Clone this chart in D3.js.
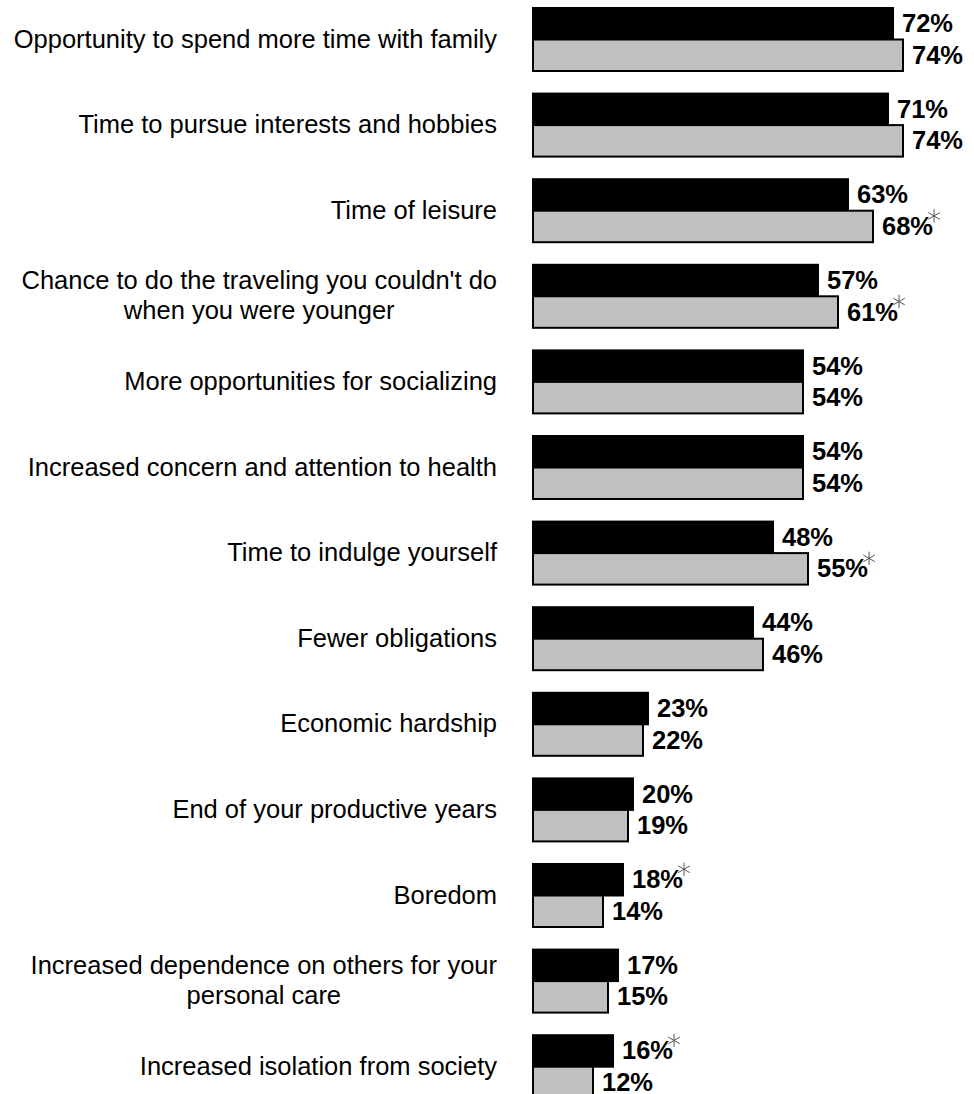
<!DOCTYPE html>
<html>
<head>
<meta charset="utf-8">
<script src="https://cdn.jsdelivr.net/npm/d3@7"></script>
<style>
  html, body { margin: 0; padding: 0; background: #fff; }
  svg { display: block; }
  text { font-family: "Liberation Sans", Arial, Helvetica, sans-serif; }
</style>
</head>
<body>
<script>
// Survey items (line breaks mark where long labels wrap)
const categories = [
  "Opportunity to spend more time with family",
  "Time to pursue interests and hobbies",
  "Time of leisure",
  "Chance to do the traveling you couldn't do\nwhen you were younger",
  "More opportunities for socializing",
  "Increased concern and attention to health",
  "Time to indulge yourself",
  "Fewer obligations",
  "Economic hardship",
  "End of your productive years",
  "Boredom",
  "Increased dependence on others for your\npersonal care",
  "Increased isolation from society"
];

// First group (black bars), percent
const groupA = [72, 71, 63, 57, 54, 54, 48, 44, 23, 20, 18, 17, 16];
// Second group (grey bars), percent
const groupB = [74, 74, 68, 61, 54, 54, 55, 46, 22, 19, 14, 15, 12];

// Significant-difference markers
const starA = [false, false, false, false, false, false, false, false, false, false, true, false, true];
const starB = [false, false, true, true, false, false, true, false, false, false, false, false, false];

const W = 974, H = 1094;
const FS = 25.5;          // font size

const svg = d3.select("body").append("svg")
  .attr("width", W).attr("height", H);

const x = d3.scaleLinear().domain([0, 100]).range([533, 1033]);

const step = 85.6, pIn = 0.264;
const y = d3.scaleBand()
  .domain(categories)
  .range([8, 8 + step * (categories.length - pIn)])
  .paddingInner(pIn)
  .paddingOuter(0);

const sub = d3.scaleBand().domain(["a", "b"]).range([0, y.bandwidth()]);

const rows = categories.map((c, i) => ({
  c,
  vals: [
    { k: "a", v: groupA[i], star: starA[i], fill: "#000000" },
    { k: "b", v: groupB[i], star: starB[i], fill: "#c0c0c0" }
  ]
}));

// Bars: black first, grey drawn over it
const row = svg.append("g").selectAll("g.row")
  .data(rows).join("g")
  .attr("class", "row")
  .attr("transform", d => `translate(0,${y(d.c)})`);

row.selectAll("rect")
  .data(d => d.vals)
  .join("rect")
  .attr("x", x(0))
  .attr("y", d => sub(d.k))
  .attr("width", d => x(d.v) - x(0))
  .attr("height", sub.bandwidth())
  .attr("fill", d => d.fill)
  .attr("stroke", "#000")
  .attr("stroke-width", 2);

// Value labels
row.selectAll("g.val")
  .data(d => d.vals)
  .join("g")
  .attr("class", "val")
  .each(function(d) {
    const g = d3.select(this);
    const bx = x(d.v) + 9;
    const by = sub(d.k) + sub.bandwidth() / 2 + 8.5;
    const t = g.append("text")
      .attr("x", bx)
      .attr("y", by)
      .attr("font-size", FS)
      .attr("font-weight", "bold")
      .attr("fill", "#000")
      .text(d.v + "%");
    if (d.star) {
      const w = t.node().getComputedTextLength();
      g.append("path")
        .attr("transform", `translate(${bx + w + 1},${by - 19})`)
        .attr("d", d3.symbol().type(d3.symbolAsterisk).size(125)())
        .attr("fill", "none")
        .attr("stroke", "#555")
        .attr("stroke-width", 1);
    }
  });

// Category labels, right-aligned block, lines centred within it
const labelRight = 497;
const lineH = 30;
row.each(function(d) {
  const lines = d.c.split("\n");
  const cy = y.bandwidth() / 2;
  const t = d3.select(this).append("text")
    .attr("font-size", FS)
    .attr("fill", "#000")
    .attr("text-anchor", "middle");
  const n = lines.length;
  const spans = lines.map((ln, i) => t.append("tspan")
    .attr("x", 0)
    .attr("y", (i - (n - 1) / 2) * lineH + 8)
    .text(ln));
  const maxW = d3.max(spans, s => s.node().getComputedTextLength());
  t.attr("transform", `translate(${labelRight - maxW / 2},${cy})`);
});
</script>
</body>
</html>
